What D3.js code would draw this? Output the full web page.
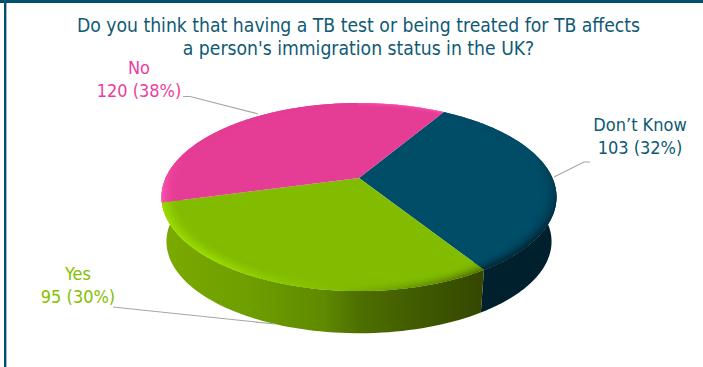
<!DOCTYPE html>
<html>
<head>
<meta charset="utf-8">
<script src="https://cdn.jsdelivr.net/npm/d3@7"></script>
<style>
html,body{margin:0;padding:0;background:#fff;overflow:hidden}
text{font-family:"DejaVu Sans Condensed","DejaVu Sans",sans-serif}
</style>
</head>
<body>
<svg id="chart" width="703" height="367"></svg>
<script>
// Survey answers
const categories = ["Don\u2019t Know", "Yes", "No"];
const counts = [103, 95, 120];
const percents = [32, 30, 38];
const titleLines = ["Do you think that having a TB test or being treated for TB affects",
                    "a person's immigration status in the UK?"];

const faceColors = ["#004d68", "#82bc00", "#e53d95"];
const labelColors = ["#0c5a75", "#86c000", "#ec3f9c"];

const W = 703, H = 367;
const svg = d3.select("#chart");

// Frame along the top and left of the slide
svg.append("rect").attr("width", W).attr("height", 3).attr("fill", "#03506d");
svg.append("rect").attr("x", 4).attr("width", 2.4).attr("height", H).attr("fill", "#03506d");

// Title
svg.append("g").selectAll("text").data(titleLines).join("text")
  .attr("x", 358.5).attr("y", (d, i) => 32 + i * 22.5)
  .attr("text-anchor", "middle").attr("font-size", 19.2).attr("fill", "#0f5a75")
  .text(d => d);

// Tilted disc: unit circle seen in perspective
const k = 0.2022, sx = 193.4, sy = 90.2, ox = 359, oy = 178;
const persp = (a, r, s, dy) => {
  const u = r * Math.sin(a), v = -r * Math.cos(a), w = 1 - k * v;
  return [ox + s * sx * u / w, oy + dy + s * sy * v / w];
};
const bottomScale = 0.975, bottomShift = 45;

const arcs = d3.pie().value(d => d).sort(null)
  .startAngle(31 * Math.PI / 180).endAngle((31 + 360) * Math.PI / 180)(counts);

const steps = (a0, a1, n) => d3.range(n + 1).map(i => a0 + (a1 - a0) * i / n);
const line = d3.line();

// Side wall: visible where the disc faces the viewer
const sideRange = [Math.PI * 0.5 - Math.asin(k), Math.PI * 1.5 + Math.asin(k)];
const defs = svg.append("defs");
const greenSideStops = [[0, "#7aa900"], [0.25, "#6f9f00"], [0.5, "#5f8a00"], [0.62, "#4d6e00"], [0.85, "#3d5600"], [1, "#344800"]];
const sideWall = (a0, a1, fill) => {
  const as = steps(a0, a1, 80);
  const top = as.map(a => persp(a, 1, 1, 0));
  const bot = as.map(a => persp(a, 1, bottomScale, bottomShift)).reverse();
  svg.append("path").attr("d", line(top.concat(bot)) + "Z").attr("fill", fill);
};
const grad = defs.append("linearGradient").attr("id", "greenSide")
  .attr("gradientUnits", "userSpaceOnUse").attr("x1", 166).attr("x2", 480).attr("y1", 0).attr("y2", 0);
greenSideStops.forEach(s => grad.append("stop").attr("offset", s[0]).attr("stop-color", s[1]));

const dk = arcs[0], yes = arcs[1];
sideWall(sideRange[0], dk.endAngle, "#00202d");
sideWall(yes.startAngle, sideRange[1], "url(#greenSide)");

// Flat wedge faces
arcs.forEach((d, i) => {
  const pts = steps(d.startAngle, d.endAngle, 90).map(a => persp(a, 1, 1, 0));
  svg.append("path").attr("d", "M" + ox + "," + oy + "L" + line(pts).slice(1) + "Z").attr("fill", faceColors[i]);
});

// Rounded rim shading on the face, built from small angular cells
const ramp = (x, a, b) => Math.max(0, Math.min(1, (x - a) / (b - a)));
const shade = (i, a, t) => {
  // t is 0 at the inner edge of the rim band and 1 at the outer edge
  const base = d3.rgb(faceColors[i]);
  const deg = a * 180 / Math.PI % 360;
  if (i === 0) return d3.interpolateRgb(base, "#00202d")(Math.pow(t, 2) * 0.95 * ramp(deg, 70, 125));
  if (i === 1) {
    const glow = ramp(deg, 185, 220);
    const dark = 1 - ramp(deg, 150, 185);
    const hi = d3.interpolateRgb(base, "#9fe000")(Math.pow(t, 1.5) * glow);
    return d3.interpolateRgb(hi, "#3d5600")(Math.pow(t, 2) * dark * 0.8);
  }
  const edge = 1 - ramp(deg, 262, 285);
  return d3.interpolateRgb(base, "#ff55b5")(Math.pow(t, 2) * edge);
};
const bands = 8, rimStart = 0.925;
arcs.forEach((d, i) => {
  const g = svg.append("g");
  const as = steps(d.startAngle, d.endAngle, Math.round((d.endAngle - d.startAngle) * 40));
  d3.range(bands).forEach(b => {
    const r0 = rimStart + (1 - rimStart) * b / bands, r1 = rimStart + (1 - rimStart) * (b + 1) / bands;
    as.slice(0, -1).forEach((a, j) => {
      const a2 = as[j + 1];
      const cell = [persp(a, r0, 1, 0), persp(Math.min(a2 + 0.004, d.endAngle), r0, 1, 0),
                    persp(Math.min(a2 + 0.004, d.endAngle), r1, 1, 0), persp(a, r1, 1, 0)];
      g.append("path").attr("d", line(cell) + "Z")
        .attr("fill", shade(i, (a + a2) / 2, (b + 0.5) / bands));
    });
  });
});

// Labels with their leader lines
const leaderLines = [
  [[554, 177], [584, 162], [590, 162]],
  [[113, 307], [275, 324]],
  [[183, 96.5], [190, 96.5], [258, 114]]
];
const labelPos = [[640, 131], [78, 280], [139, 74]];
leaderLines.forEach(p => {
  svg.append("path").attr("d", line(p)).attr("fill", "none").attr("stroke", "#a6a6a6").attr("stroke-width", 1.2);
});
categories.forEach((c, i) => {
  const t = svg.append("text").attr("text-anchor", "middle").attr("font-size", 18).attr("fill", labelColors[i]);
  t.append("tspan").attr("x", labelPos[i][0]).attr("y", labelPos[i][1]).text(c);
  t.append("tspan").attr("x", labelPos[i][0]).attr("y", labelPos[i][1] + 23).text(`${counts[i]} (${percents[i]}%)`);
});
</script>
</body>
</html>
